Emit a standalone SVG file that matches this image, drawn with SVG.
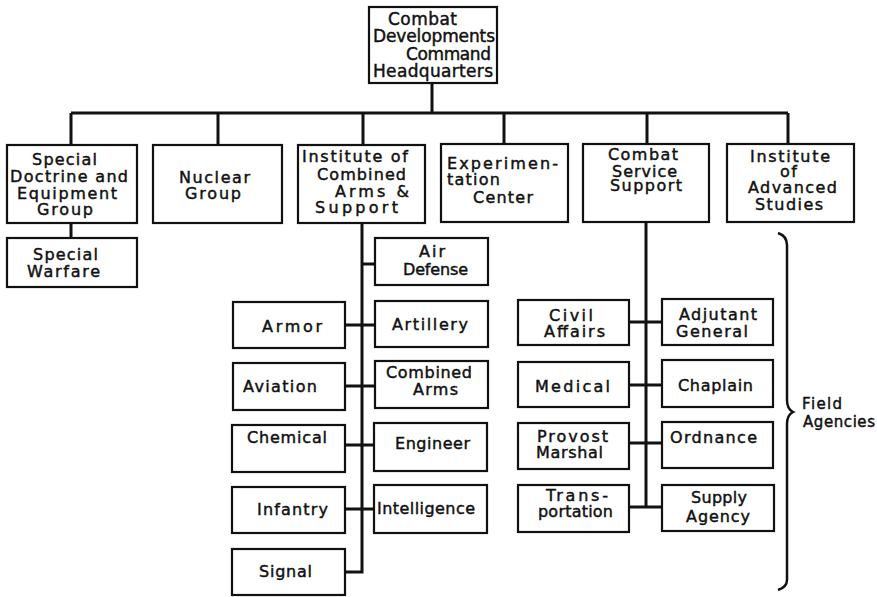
<svg xmlns="http://www.w3.org/2000/svg" width="877" height="597" viewBox="0 0 877 597">
<style>
.b{fill:#fff;stroke:#111;stroke-width:2.2}
.c{fill:none;stroke:#111;stroke-width:3}
text{font-family:"DejaVu Sans",sans-serif;font-size:16px;fill:#111;stroke:#111;stroke-width:0.45}
.t{font-size:17px}
.f{font-size:15px}
</style>
<rect width="877" height="597" fill="#fff"/>
<g id="connectors">
<path class="c" d="M432,83V113M71,113H788M71,113V145M218,113V145M363,113V145M504,113V144M647,113V144M788,113V144"/>
<path class="c" d="M71,223V238"/>
<path class="c" d="M362,223V572H345M362,264H375M345,325H375M345,386H375M345,445H374M345,509H374"/>
<path class="c" d="M646,222V507M629,322H662M629,385H662M629,443H662M629,507H662"/>
</g>
<g id="hq"><rect class="b" x="369" y="7" width="128" height="76"/>
<text class="t" x="388" y="25" textLength="69" lengthAdjust="spacing">Combat</text>
<text class="t" x="373" y="42" textLength="122" lengthAdjust="spacing">Developments</text>
<text class="t" x="406" y="60" textLength="85" lengthAdjust="spacing">Command</text>
<text class="t" x="373" y="77" textLength="120" lengthAdjust="spacing">Headquarters</text></g>
<g id="sdeg"><rect class="b" x="7" y="145" width="130" height="78"/>
<text x="32" y="165" textLength="65" lengthAdjust="spacing">Special</text>
<text x="10" y="182" textLength="118" lengthAdjust="spacing">Doctrine and</text>
<text x="17" y="199" textLength="100" lengthAdjust="spacing">Equipment</text>
<text x="37" y="215" textLength="56" lengthAdjust="spacing">Group</text></g>
<g id="nuclear"><rect class="b" x="153" y="145" width="129" height="78"/>
<text x="179" y="183" textLength="71" lengthAdjust="spacing">Nuclear</text>
<text x="185" y="199" textLength="56" lengthAdjust="spacing">Group</text></g>
<g id="icas"><rect class="b" x="298" y="145" width="127" height="78"/>
<text x="302" y="162" textLength="106" lengthAdjust="spacing">Institute of</text>
<text x="317" y="180" textLength="89" lengthAdjust="spacing">Combined</text>
<text x="335" y="197" textLength="74" lengthAdjust="spacing">Arms &amp;</text>
<text x="315" y="213" textLength="83" lengthAdjust="spacing">Support</text></g>
<g id="exp"><rect class="b" x="441" y="144" width="127" height="78"/>
<text x="447" y="169" textLength="111" lengthAdjust="spacing">Experimen-</text>
<text x="447" y="185" textLength="53" lengthAdjust="spacing">tation</text>
<text x="473" y="203" textLength="60" lengthAdjust="spacing">Center</text></g>
<g id="css"><rect class="b" x="583" y="144" width="126" height="78"/>
<text x="608" y="160" textLength="70" lengthAdjust="spacing">Combat</text>
<text x="612" y="177" textLength="65" lengthAdjust="spacing">Service</text>
<text x="610" y="191" textLength="72" lengthAdjust="spacing">Support</text></g>
<g id="ias"><rect class="b" x="727" y="144" width="127" height="78"/>
<text x="750" y="162" textLength="80" lengthAdjust="spacing">Institute</text>
<text x="780" y="177" textLength="17" lengthAdjust="spacing">of</text>
<text x="748" y="193" textLength="89" lengthAdjust="spacing">Advanced</text>
<text x="755" y="210" textLength="68" lengthAdjust="spacing">Studies</text></g>
<g id="sw"><rect class="b" x="7" y="238" width="130" height="49"/>
<text x="33" y="260" textLength="65" lengthAdjust="spacing">Special</text>
<text x="27" y="277" textLength="73" lengthAdjust="spacing">Warfare</text></g>
<g id="airdef"><rect class="b" x="375" y="238" width="113" height="47"/>
<text x="419" y="257" textLength="26" lengthAdjust="spacing">Air</text>
<text x="403" y="275" textLength="65" lengthAdjust="spacing">Defense</text></g>
<g id="armor"><rect class="b" x="233" y="302" width="112" height="46"/>
<text x="262" y="332" textLength="60" lengthAdjust="spacing">Armor</text></g>
<g id="artillery"><rect class="b" x="375" y="301" width="113" height="46"/>
<text x="392" y="330" textLength="76" lengthAdjust="spacing">Artillery</text></g>
<g id="aviation"><rect class="b" x="233" y="363" width="112" height="47"/>
<text x="243" y="392" textLength="74" lengthAdjust="spacing">Aviation</text></g>
<g id="combarms"><rect class="b" x="375" y="361" width="113" height="47"/>
<text x="386" y="378" textLength="86" lengthAdjust="spacing">Combined</text>
<text x="413" y="395" textLength="45" lengthAdjust="spacing">Arms</text></g>
<g id="chemical"><rect class="b" x="232" y="425" width="113" height="47"/>
<text x="247" y="443" textLength="80" lengthAdjust="spacing">Chemical</text></g>
<g id="engineer"><rect class="b" x="374" y="423" width="113" height="48"/>
<text x="395" y="449" textLength="75" lengthAdjust="spacing">Engineer</text></g>
<g id="infantry"><rect class="b" x="232" y="487" width="113" height="46"/>
<text x="257" y="515" textLength="71" lengthAdjust="spacing">Infantry</text></g>
<g id="intelligence"><rect class="b" x="374" y="485" width="113" height="48"/>
<text x="377" y="514" textLength="98" lengthAdjust="spacing">Intelligence</text></g>
<g id="signal"><rect class="b" x="232" y="549" width="113" height="46"/>
<text x="259" y="577" textLength="53" lengthAdjust="spacing">Signal</text></g>
<g id="civil"><rect class="b" x="518" y="300" width="111" height="45"/>
<text x="549" y="321" textLength="44" lengthAdjust="spacing">Civil</text>
<text x="544" y="337" textLength="61" lengthAdjust="spacing">Affairs</text></g>
<g id="adjutant"><rect class="b" x="662" y="299" width="111" height="46"/>
<text x="679" y="320" textLength="78" lengthAdjust="spacing">Adjutant</text>
<text x="676" y="337" textLength="72" lengthAdjust="spacing">General</text></g>
<g id="medical"><rect class="b" x="518" y="362" width="111" height="45"/>
<text x="535" y="392" textLength="75" lengthAdjust="spacing">Medical</text></g>
<g id="chaplain"><rect class="b" x="662" y="360" width="111" height="47"/>
<text x="678" y="391" textLength="75" lengthAdjust="spacing">Chaplain</text></g>
<g id="provost"><rect class="b" x="518" y="423" width="111" height="46"/>
<text x="537" y="442" textLength="71" lengthAdjust="spacing">Provost</text>
<text x="536" y="458" textLength="67" lengthAdjust="spacing">Marshal</text></g>
<g id="ordnance"><rect class="b" x="662" y="422" width="111" height="46"/>
<text x="670" y="443" textLength="87" lengthAdjust="spacing">Ordnance</text></g>
<g id="transport"><rect class="b" x="518" y="485" width="111" height="47"/>
<text x="546" y="501" textLength="62" lengthAdjust="spacing">Trans-</text>
<text x="538" y="517" textLength="75" lengthAdjust="spacing">portation</text></g>
<g id="supply"><rect class="b" x="662" y="485" width="112" height="46"/>
<text x="691" y="503" textLength="56" lengthAdjust="spacing">Supply</text>
<text x="686" y="522" textLength="64" lengthAdjust="spacing">Agency</text></g>
<g id="field">
<path fill="none" stroke="#111" stroke-width="2.5" d="M778,233Q787,236 787,245V400Q787,409 793,412Q787,415 787,424V580Q787,587 778,590"/>
<text class="f" x="802" y="409" textLength="40" lengthAdjust="spacing">Field</text>
<text class="f" x="803" y="427" textLength="72" lengthAdjust="spacing">Agencies</text></g>
</svg>
